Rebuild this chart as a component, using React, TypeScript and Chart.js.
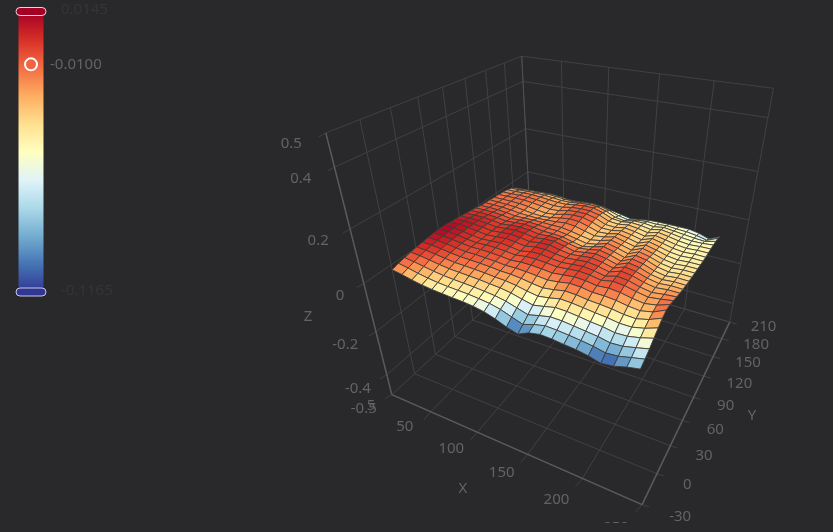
import { useEffect, useRef } from "react";
import { Chart, registerables } from "chart.js";

Chart.register(...registerables);

const xValues = [5, 15.2, 25.4, 35.6, 45.8, 56, 66.2, 76.4, 86.6, 96.8, 107, 117.2, 127.4, 137.6, 147.8, 158, 168.2, 178.4, 188.6, 198.8, 209, 219.2, 229.4];
const yValues = [0, 7.7, 15.4, 23.1, 30.8, 38.5, 46.2, 53.9, 61.6, 69.3, 77, 84.7, 92.4, 100.1, 107.8, 115.5, 123.2, 130.9, 138.6, 146.3, 154, 161.7, 169.4, 177.1, 184.8, 192.5];
// surface heights in thousandths, one row per y value
const zRows = [
  [-20,-27,-36,-43,-48,-51,-54,-56,-60,-68,-82,-100,-113,-92,-83,-85,-90,-94,-102,-114,-108,-94,-84],
  [-12,-19,-28,-35,-40,-43,-45,-47,-51,-56,-66,-82,-97,-82,-72,-74,-78,-83,-89,-99,-95,-83,-72],
  [-7,-12,-19,-26,-31,-34,-36,-38,-42,-46,-54,-67,-80,-69,-59,-60,-65,-70,-75,-84,-81,-70,-58],
  [-2,-5,-11,-17,-22,-24,-26,-28,-32,-35,-42,-53,-63,-54,-44,-45,-50,-56,-60,-68,-66,-56,-42],
  [2,0,-5,-10,-15,-16,-18,-20,-24,-26,-32,-41,-48,-41,-31,-33,-38,-43,-47,-54,-54,-43,-26],
  [5,4,0,-5,-9,-10,-12,-14,-18,-19,-23,-30,-35,-29,-20,-22,-28,-31,-35,-42,-44,-32,-12],
  [8,7,3,-2,-6,-6,-8,-10,-14,-13,-15,-19,-23,-18,-10,-12,-19,-19,-23,-31,-35,-25,-3],
  [11,9,5,0,-4,-3,-4,-7,-11,-7,-7,-10,-14,-9,-4,-6,-13,-9,-13,-22,-28,-20,-4],
  [12,10,6,1,-3,-1,-1,-4,-8,-2,-1,-4,-8,-4,0,-3,-11,-2,-6,-16,-24,-18,-10],
  [12,11,6,0,-4,-1,1,-3,-9,0,1,-4,-8,-4,0,-5,-14,-1,-6,-18,-26,-20,-16],
  [10,10,7,2,-3,0,4,0,-6,2,3,-3,-8,-4,0,-6,-16,0,-6,-19,-27,-22,-22],
  [8,9,7,3,-2,2,5,2,-4,3,4,-4,-11,-6,-1,-8,-19,-2,-8,-22,-30,-26,-27],
  [5,7,6,3,-2,3,6,3,-4,2,3,-6,-16,-9,-3,-11,-23,-4,-11,-26,-34,-30,-31],
  [2,4,4,1,-4,1,4,1,-6,-2,-3,-12,-20,-14,-5,-14,-27,-6,-14,-30,-38,-33,-34],
  [-1,1,1,-2,-7,-3,0,-3,-9,-9,-12,-22,-30,-20,-8,-17,-30,-9,-17,-33,-41,-36,-37],
  [-4,-3,-3,-6,-11,-8,-6,-8,-12,-12,-18,-26,-34,-26,-11,-20,-32,-12,-21,-36,-43,-39,-39],
  [-7,-6,-7,-10,-15,-14,-13,-13,-14,-14,-20,-28,-35,-27,-14,-23,-34,-15,-25,-38,-45,-41,-41],
  [-9,-9,-10,-13,-18,-19,-20,-18,-15,-10,-14,-24,-34,-28,-17,-26,-36,-18,-28,-40,-46,-43,-43],
  [-10,-11,-12,-14,-19,-24,-26,-22,-14,-7,-9,-20,-33,-30,-20,-28,-38,-21,-31,-42,-47,-44,-45],
  [-12,-12,-12,-13,-17,-23,-27,-23,-12,-6,-6,-17,-32,-32,-23,-30,-40,-24,-33,-43,-48,-45,-46],
  [-13,-12,-11,-11,-14,-19,-24,-21,-10,-6,-6,-15,-32,-34,-26,-32,-41,-27,-35,-44,-49,-46,-46],
  [-15,-14,-12,-12,-14,-18,-22,-20,-11,-7,-7,-16,-33,-36,-29,-34,-42,-30,-37,-45,-50,-47,-46],
  [-18,-17,-15,-14,-16,-19,-22,-21,-14,-9,-9,-20,-37,-40,-34,-37,-44,-34,-40,-47,-51,-50,-46],
  [-24,-23,-21,-20,-21,-24,-27,-26,-20,-16,-17,-28,-46,-52,-42,-42,-47,-40,-45,-50,-55,-58,-47],
  [-36,-34,-32,-30,-30,-33,-36,-35,-30,-27,-30,-40,-54,-62,-54,-50,-52,-48,-52,-54,-60,-70,-50],
  [-58,-55,-50,-46,-44,-46,-50,-50,-46,-44,-48,-56,-64,-72,-66,-60,-58,-58,-58,-58,-66,-80,-60],
];
const xTicks = [50, 100, 150, 200, 250];
const yTicks = [-30, 0, 30, 60, 90, 120, 150, 180, 210];
const zTicks = [-0.5, -0.4, -0.2, 0, 0.2, 0.4, 0.5];
const palette = ["#313695", "#4575b4", "#74add1", "#abd9e9", "#e0f3f8", "#ffffbf", "#fee090", "#fdae61", "#f46d43", "#d73027", "#a50026"];
const rangeMin = -0.1165;
const rangeMax = 0.0145;
const rangeHandle = -0.01;

const BG = "#29292b";
const XMIN = 5, XMAX = 250, YMIN = -30, YMAX = 210, ZMIN = -0.5, ZMAX = 0.5;
const W = 833, H = 523;
const PAD = 8; // Chart.js keeps this much room for the knob point

const calib: number[][] = [
  [5, -30, -0.5, 392, 392], [250, -30, -0.5, 640, 506], [250, 210, -0.5, 729, 320], [5, 210, -0.5, 533, 268],
  [5, -30, 0.5, 326, 134], [5, 210, 0.5, 521, 56], [250, 210, 0.5, 773, 89], [5, 210, 0, 527, 170],
  [5, -30, 0, 363, 283], [150, -30, -0.5, 529, 456], [150, 210, 0.5, 661, 74], [5, 90, 0.5, 443, 87], [250, 90, -0.5, 695, 397],
];

const norm = (x: number, y: number, z: number) => [(x - XMIN) / (XMAX - XMIN), (y - YMIN) / (YMAX - YMIN), (z - ZMIN) / (ZMAX - ZMIN)];

function solveCamera(): number[] {
  const n = 11;
  const A = Array.from({ length: n }, () => new Array(n + 1).fill(0));
  const add = (row: number[], b: number) => {
    for (let i = 0; i < n; i++) {
      for (let j = 0; j < n; j++) A[i][j] += row[i] * row[j];
      A[i][n] += row[i] * b;
    }
  };
  for (const [x, y, z, px, py] of calib) {
    const [u, v, w] = norm(x, y, z);
    add([u, v, w, 1, 0, 0, 0, 0, -px * u, -px * v, -px * w], px);
    add([0, 0, 0, 0, u, v, w, 1, -py * u, -py * v, -py * w], py);
  }
  for (let c = 0; c < n; c++) {
    let p = c;
    for (let r = c + 1; r < n; r++) if (Math.abs(A[r][c]) > Math.abs(A[p][c])) p = r;
    [A[c], A[p]] = [A[p], A[c]];
    for (let r = 0; r < n; r++) {
      if (r === c) continue;
      const f = A[r][c] / A[c][c];
      for (let k = c; k <= n; k++) A[r][k] -= f * A[c][k];
    }
  }
  return A.map((r, i) => r[n] / r[i]);
}
const cam = solveCamera();
function project(x: number, y: number, z: number) {
  const [u, v, w] = norm(x, y, z);
  const d = cam[8] * u + cam[9] * v + cam[10] * w + 1;
  return {
    x: (cam[0] * u + cam[1] * v + cam[2] * w + cam[3]) / d,
    y: (cam[4] * u + cam[5] * v + cam[6] * w + cam[7]) / d,
  };
}

function colorFor(z: number) {
  const t = Math.max(0, Math.min(1, (z - rangeMin) / (rangeMax - rangeMin))) * (palette.length - 1);
  const i = Math.min(palette.length - 2, Math.floor(t));
  const f = t - i;
  const rgb = (s: string) => [1, 3, 5].map((k) => parseInt(s.slice(k, k + 2), 16));
  const a = rgb(palette[i]), b = rgb(palette[i + 1]);
  return `rgb(${a.map((c, k) => Math.round(c + (b[k] - c) * f)).join(",")})`;
}

const line = (pts: { x: number; y: number }[], color: string, width: number) => ({
  data: pts, showLine: true, pointRadius: 0, borderColor: color, borderWidth: width, fill: false, borderCapStyle: "butt",
});

function gridDatasets() {
  const g = "#414144";
  const a = "#5a5a5c";
  const t = 7;
  const out: any[] = [];
  const seg = (p: number[], q: number[], c: string, w = 1) => out.push(line([project(p[0], p[1], p[2]), project(q[0], q[1], q[2])], c, w));
  seg([XMIN, YMIN, ZMIN], [XMIN, YMIN, ZMAX], a, 1.5);
  seg([XMIN, YMIN, ZMIN], [XMAX, YMIN, ZMIN], a, 1.5);
  seg([XMAX, YMIN, ZMIN], [XMAX, YMAX, ZMIN], a, 1.5);
  seg([XMIN, YMAX, ZMIN], [XMIN, YMAX, ZMAX], "#505052", 1);
  for (const x of xTicks) {
    seg([x, YMIN, ZMIN], [x, YMAX, ZMIN], g);
    seg([x, YMAX, ZMIN], [x, YMAX, ZMAX], g);
    const p = project(x, YMIN, ZMIN);
    out.push(line([p, { x: p.x - t, y: p.y + t + 1 }], g, 1));
  }
  for (const y of yTicks) {
    seg([XMIN, y, ZMIN], [XMAX, y, ZMIN], g);
    seg([XMIN, y, ZMIN], [XMIN, y, ZMAX], g);
    const p = project(XMAX, y, ZMIN);
    out.push(line([p, { x: p.x + t, y: p.y + 2 }], g, 1));
  }
  for (const z of zTicks) {
    seg([XMIN, YMIN, z], [XMIN, YMAX, z], g);
    seg([XMIN, YMAX, z], [XMAX, YMAX, z], g);
    const p = project(XMIN, YMIN, z);
    out.push(line([p, { x: p.x - 7, y: p.y + 4 }], g, 1));
  }
  return out;
}

function surfaceDatasets() {
  const out: any[] = [];
  for (let j = 0; j < yValues.length - 1; j++) {
    for (let i = xValues.length - 2; i >= 0; i--) {
      const corners: [number, number][] = [[i, j], [i + 1, j], [i + 1, j + 1], [i, j + 1], [i, j]];
      const pts = corners.map(([a, b]) => project(xValues[a], yValues[b], zRows[b][a] / 1000));
      const avg = (zRows[j][i] + zRows[j][i + 1] + zRows[j + 1][i] + zRows[j + 1][i + 1]) / 4000;
      out.push({
        data: pts, showLine: true, pointRadius: 0, borderColor: "rgba(62,62,58,0.85)", borderWidth: 1,
        backgroundColor: colorFor(avg), fill: "shape", tension: 0,
      });
    }
  }
  return out;
}

const bar = { left: 18.5, right: 43.5, top: 12, bottom: 292 };
const barY = (v: number) => bar.top + ((rangeMax - v) / (rangeMax - rangeMin)) * (bar.bottom - bar.top);

const textPlugin = {
  id: "axisText",
  afterDatasetsDraw(chart: any) {
    const c = chart.ctx as CanvasRenderingContext2D;
    const sx = chart.scales.x, sy = chart.scales.y;
    const put = (s: string, px: number, py: number, align: CanvasTextAlign, color = "#636365", size = 15) => {
      c.font = `${size}px "Noto Sans"`;
      c.fillStyle = color;
      c.textAlign = align;
      c.textBaseline = "middle";
      c.fillText(s, sx.getPixelForValue(px), sy.getPixelForValue(py));
    };
    c.save();
    for (const x of xTicks) {
      const p = project(x, YMIN, ZMIN);
      put(String(x), p.x - 26, p.y + 15 + (p.x - 432) * 0.04, "center");
    }
    for (const y of yTicks) {
      const p = project(XMAX, y, ZMIN);
      put(String(y), p.x + 21 + (729 - p.x) * 0.07, p.y + 5 + (p.y - 320) * 0.04, "left");
    }
    for (const z of zTicks) {
      const p = project(XMIN, YMIN, z);
      const w = z - ZMIN;
      put(String(z), p.x - 15 - 9 * w, p.y + 14 - 3 * w, "right");
    }
    put("5", 371, 406, "center");
    put("X", 463, 489, "center");
    put("Y", 752, 416, "center");
    put("Z", 308, 317, "center");
    const handle = (py: number, fill: string, stroke: string) => {
      c.beginPath();
      c.roundRect(16, py - 4, 30, 8, 4);
      c.fillStyle = fill;
      c.fill();
      c.lineWidth = 1;
      c.strokeStyle = stroke;
      c.stroke();
    };
    handle(barY(rangeMax) - 0.5, palette[10], "#f3d0d6");
    handle(barY(rangeMin), palette[0], "#c8c8e8");
    put("0.0145", 61, 10, "left", "#353537");
    put("-0.1165", 61, 291, "left", "#353537");
    put("-0.0100", 50, barY(rangeHandle), "left");
    c.restore();
  },
};

export default function App() {
  const ref = useRef<HTMLCanvasElement>(null);
  useEffect(() => {
    document.body.style.margin = "0";
    const canvas = ref.current!;
    const ctx = canvas.getContext("2d")!;
    const grad = ctx.createLinearGradient(0, bar.top, 0, bar.bottom);
    [...palette].reverse().forEach((col, i) => grad.addColorStop(i / (palette.length - 1), col));
    const barShape = {
      data: [
        { x: bar.left, y: bar.top }, { x: bar.right, y: bar.top }, { x: bar.right, y: bar.bottom }, { x: bar.left, y: bar.bottom }, { x: bar.left, y: bar.top },
      ],
      showLine: true, pointRadius: 0, borderWidth: 0, backgroundColor: grad, fill: "shape",
    };
    const knob = {
      data: [{ x: (bar.left + bar.right) / 2, y: barY(rangeHandle) }],
      showLine: false, pointRadius: 6, pointBackgroundColor: colorFor(rangeHandle), pointBorderColor: "#ffffff", pointBorderWidth: 2,
    };
    const chart = new Chart(canvas, {
      type: "scatter",
      data: { datasets: [knob, barShape, ...surfaceDatasets(), ...gridDatasets()] as any },
      options: {
        responsive: false, animation: false, devicePixelRatio: 1, events: [],
        layout: { padding: 0 },
        plugins: { legend: { display: false }, title: { display: false }, tooltip: { enabled: false } },
        scales: {
          x: { type: "linear", min: PAD, max: W - PAD, display: false },
          y: { type: "linear", min: PAD, max: H - PAD, reverse: true, display: false },
        },
      } as any,
      plugins: [textPlugin],
    });
    return () => chart.destroy();
  }, []);
  return (
    <div style={{ position: "fixed", inset: 0, background: BG }}>
      <canvas ref={ref} width={W} height={H} style={{ display: "block" }} />
    </div>
  );
}
